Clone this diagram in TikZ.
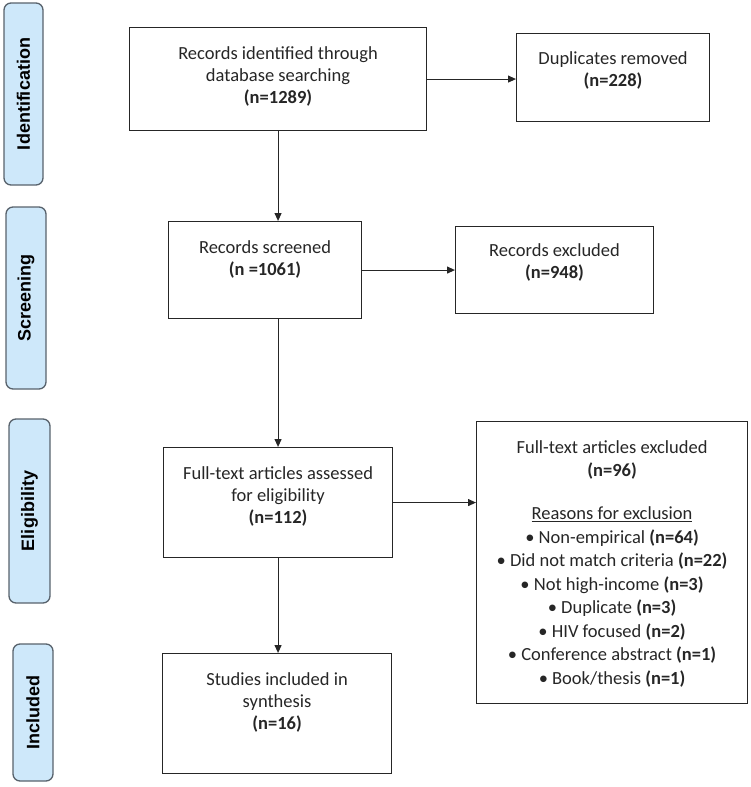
\documentclass[tikz,border=0pt]{standalone}
\usepackage{fontspec}
\setmainfont{Carlito}
\newfontfamily\phasefont{Liberation Sans}
\usetikzlibrary{positioning,arrows.meta}
\definecolor{phasefill}{RGB}{206,232,250}
\definecolor{phaseline}{RGB}{88,98,108}
\definecolor{inktext}{RGB}{38,38,38}
\begin{document}
\begin{tikzpicture}[x=1pt,y=-1pt,
  box/.style={draw=black!85,line width=1.1pt,inner sep=0pt,anchor=north west},
  txt/.style={inner sep=0pt,align=center,text=inktext,font=\fontsize{18.5}{22}\selectfont},
  phase/.style={draw=phaseline,fill=phasefill,line width=1.3pt,rounded corners=7pt,rotate=90,inner sep=0pt,font=\phasefont\bfseries\fontsize{18}{22}\selectfont},
  arr/.style={-{Triangle[length=8pt,width=7pt]},line width=1.1pt,draw=black!85}]
\useasboundingbox (0,0) rectangle (750,787);
\node[phase,minimum width=182pt,minimum height=39pt] (idf) at (23.5,94) {Identification};
\node[phase,minimum width=182pt,minimum height=40pt] (scr) at (26,298) {Screening};
\node[phase,minimum width=184pt,minimum height=41pt] (elg) at (29.5,511) {Eligibility};
\node[phase,minimum width=137pt,minimum height=40pt] (inc) at (33,712.5) {Included};
\node[box,minimum width=297pt,minimum height=103pt] (ident) at (129,27) {};
\node[txt,below=19pt of ident.north] (identtxt) {Records identified through\\database searching\\\textbf{(n=1289)}};
\node[box,minimum width=193pt,minimum height=88pt] (dup) at (516,33) {};
\node[txt,below=18pt of dup.north] (duptxt) {Duplicates removed\\\textbf{(n=228)}};
\node[box,minimum width=193pt,minimum height=97pt] (screen) at (168,221) {};
\node[txt,below=19pt of screen.north] (screentxt) {Records screened\\\textbf{(n =1061)}};
\node[box,minimum width=198pt,minimum height=87pt] (excl) at (455,226) {};
\node[txt,below=17pt of excl.north] (excltxt) {Records excluded\\\textbf{(n=948)}};
\node[box,minimum width=229pt,minimum height=110pt] (full) at (163,447) {};
\node[txt,below=19pt of full.north] (fulltxt) {Full-text articles assessed\\for eligibility\\\textbf{(n=112)}};
\node[box,minimum width=271pt,minimum height=282pt] (reasons) at (476,421) {};
\node[txt,font=\fontsize{18.5}{23.5}\selectfont,below=19pt of reasons.north] (reasonstxt) {Full-text articles excluded\\\textbf{(n=96)}\\[19.5pt]
  \underline{Reasons for exclusion}\\
  \textbullet\ Non-empirical \textbf{(n=64)}\\
  \textbullet\ Did not match criteria \textbf{(n=22)}\\
  \textbullet\ Not high-income \textbf{(n=3)}\\
  \textbullet\ Duplicate \textbf{(n=3)}\\
  \textbullet\ HIV focused \textbf{(n=2)}\\
  \textbullet\ Conference abstract \textbf{(n=1)}\\
  \textbullet\ Book/thesis \textbf{(n=1)}};
\node[box,minimum width=229pt,minimum height=120pt] (studies) at (162,653) {};
\node[txt,below=19pt of studies.north] (studiestxt) {Studies included in\\synthesis\\\textbf{(n=16)}};
\draw[arr] (ident.south) -- (ident.south |- screen.north);
\draw[arr] (screen.south -| full.north) -- (full.north);
\draw[arr] (full.south) -- (full.south |- studies.north);
\draw[arr] (ident.east) -- (ident.east -| dup.west);
\draw[arr] (screen.east) -- (screen.east -| excl.west);
\draw[arr] (full.east) -- (full.east -| reasons.west);
\end{tikzpicture}
\end{document}
